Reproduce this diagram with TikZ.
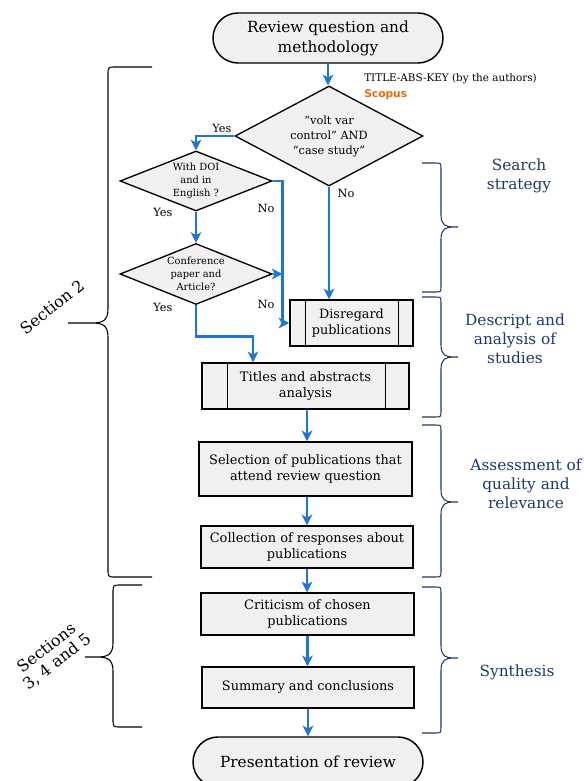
\documentclass[tikz,border=0pt]{standalone}
\usepackage{fontspec}
\setmainfont{DejaVu Serif}
\newfontfamily\scopusfont{DejaVu Sans}
\usetikzlibrary{arrows.meta,shapes.geometric}
\definecolor{flowblue}{RGB}{31,119,208}
\definecolor{navy}{RGB}{31,56,100}
\definecolor{boxgray}{RGB}{240,240,240}
\definecolor{scopusorange}{RGB}{228,108,10}
\def\pxu{0.75pt}
\newcommand\bracetoright[6]{% xl, xv, xt, yt, ym, yb  (opens left, tip to the right)
  \draw[navy, line width=0.8pt] (#1,#4) -- (#2-6,#4) .. controls (#2,#4) .. (#2,#4+6) -- (#2,#5-12)
    .. controls (#2,#5-2) and (#2+5,#5) .. (#2+12,#5) -- (#3,#5) -- (#2+12,#5)
    .. controls (#2+5,#5) and (#2,#5+2) .. (#2,#5+12) -- (#2,#6-6) .. controls (#2,#6) .. (#2-6,#6) -- (#1,#6);}
\newcommand\bracetoleft[6]{% xr, xv, xt, yt, ym, yb (opens right, tip to the left)
  \draw[black, line width=0.8pt] (#1,#4) -- (#2+8,#4) .. controls (#2,#4) .. (#2,#4+8) -- (#2,#5-14)
    .. controls (#2,#5-2) and (#2-6,#5) .. (#2-16,#5) -- (#3,#5) -- (#2-16,#5)
    .. controls (#2-6,#5) and (#2,#5+2) .. (#2,#5+14) -- (#2,#6-8) .. controls (#2,#6) .. (#2+8,#6) -- (#1,#6);}
\begin{document}
\begin{tikzpicture}[x=0.75pt,y=-0.75pt,
  term/.style={draw=black, line width=1.1pt, fill=boxgray, rounded corners=25*\pxu,
    minimum width=230*\pxu, minimum height=50*\pxu, inner sep=0, align=center,
    font=\fontsize{11.5}{15}\selectfont},
  dia/.style={draw=black, line width=1pt, fill=boxgray, shape=diamond, inner sep=0},
  diatext/.style={inner sep=0, align=center},
  proc/.style={draw=black, line width=1.1pt, fill=boxgray, inner sep=0, align=center},
  flow/.style={draw=flowblue, line width=2pt, -{Stealth[length=8pt,width=8pt,inset=2.2pt]}},
  yn/.style={inner sep=0, font=\fontsize{8.5}{10}\selectfont},
  phase/.style={inner sep=0, align=center, text=navy, font=\fontsize{11.5}{14.3}\selectfont},
  sect/.style={inner sep=0, align=center, rotate=38, font=\fontsize{12}{13}\selectfont}
]
\useasboundingbox (0,0) rectangle (584,781);
\clip (0,0) rectangle (584,781);

% terminators
\node[term] (start) at (328,38) {Review question and\\methodology};
\node[term] (finish) at (308,762) {Presentation of review};

% search annotation
\node[anchor=west, inner sep=0, font=\fontsize{7.8}{9}\selectfont] (tak) at (364,79) {TITLE-ABS-KEY (by the authors)};
\node[anchor=west, inner sep=0, text=scopusorange, font=\scopusfont\bfseries\fontsize{8}{10}\selectfont] (scopus) at (364,95) {Scopus};

% decisions
\node[dia, minimum width=188*\pxu, minimum height=100*\pxu] (d1) at (329,136) {};
\node[diatext, font=\fontsize{8.5}{11.25}\selectfont] (d1t) at (d1) {“volt var\\control” AND\\“case study”};
\node[dia, minimum width=152*\pxu, minimum height=60*\pxu] (d2) at (196,181) {};
\node[diatext, font=\fontsize{7.4}{9.75}\selectfont] (d2t) at (d2) {With DOI\\and in\\English ?};
\node[dia, minimum width=152*\pxu, minimum height=61*\pxu] (d3) at (196,274) {};
\node[diatext, font=\fontsize{7.4}{9.75}\selectfont] (d3t) at (d3) {Conference\\paper and\\Article?};

% process boxes
\node[proc, minimum width=123*\pxu, minimum height=46*\pxu, font=\fontsize{9.6}{11.75}\selectfont] (dis) at (351.5,323) {Disregard\\publications};
\draw[line width=1.1pt] ([xshift=16*\pxu]dis.north west) -- ([xshift=16*\pxu]dis.south west);
\draw[line width=1.1pt] ([xshift=-15*\pxu]dis.north east) -- ([xshift=-15*\pxu]dis.south east);
\node[proc, minimum width=207*\pxu, minimum height=46*\pxu, font=\fontsize{9.8}{11.75}\selectfont] (ti) at (305.5,386) {Titles and abstracts\\analysis};
\draw[line width=1.1pt] ([xshift=26*\pxu]ti.north west) -- ([xshift=26*\pxu]ti.south west);
\draw[line width=1.1pt] ([xshift=-24*\pxu]ti.north east) -- ([xshift=-24*\pxu]ti.south east);

\node[proc, minimum width=213*\pxu, minimum height=54*\pxu, font=\fontsize{9.7}{12.5}\selectfont] (sel) at (305.5,469) {Selection of publications that\\attend review question};
\node[proc, minimum width=212*\pxu, minimum height=42*\pxu, font=\fontsize{9.7}{12.5}\selectfont] (col) at (307,547) {Collection of responses about\\publications};
\node[proc, minimum width=213*\pxu, minimum height=42*\pxu, font=\fontsize{9.7}{12.5}\selectfont] (cri) at (307.5,614) {Criticism of chosen\\publications};
\node[proc, minimum width=212*\pxu, minimum height=41*\pxu, font=\fontsize{9.7}{12.5}\selectfont] (sum) at (308,687.5) {Summary and conclusions};

% connectors
\draw[flow] (start.south) -- (start.south |- d1.north);
\draw[flow] (d1.west) -| (d2.north);
\draw[flow] (d2.south) -- (d3.north);
\draw[flow] (d2.east) -- ++(10,0) |- (dis.west);
\draw[flow] (d3.east) -- ++(10,0);
\draw[flow] (d1.south) -- (d1.south |- dis.north);
\draw[flow] (d3.south) -- ++(0,31) -| ([xshift=-52.5*\pxu]ti.north);
\draw[flow] ([xshift=1.5*\pxu]ti.south) -- ([xshift=1.5*\pxu]ti.south |- sel.north);
\draw[flow] ([xshift=1.5*\pxu]sel.south) -- ([xshift=1.5*\pxu]sel.south |- col.north);
\draw[flow] (col.south) -- (col.south |- cri.north);
\draw[flow] (cri.south) -- (cri.south |- sum.north);
\draw[flow] (sum.south) -- (sum.south |- finish.north);

% yes / no labels
\node[yn] (y1) at (222,128) {Yes};
\node[yn] (y2) at (163,212) {Yes};
\node[yn] (y3) at (163,307) {Yes};
\node[yn] (n1) at (346,193) {No};
\node[yn] (n2) at (266,208) {No};
\node[yn] (n3) at (266,304) {No};

% right braces and phase labels
\bracetoright{422}{441}{458}{163}{227}{292}
\bracetoright{422}{441}{458}{297}{357}{417}
\bracetoright{422}{441}{458}{425}{502}{577}
\bracetoright{422}{441}{458}{587}{658}{733}
\node[phase] (ph1) at (519,176) {Search\\strategy};
\node[phase] (ph2) at (515,339) {Descript and\\analysis of\\studies};
\node[phase] (ph3) at (526,484) {Assessment of\\quality and\\relevance};
\node[phase] (ph4) at (517,672) {Synthesis};

% left braces and section labels
\bracetoleft{152}{108}{68}{67}{323}{577}
\bracetoleft{142}{113}{85}{585}{657}{727}
\node[sect] (s2) at (52,307) {Section 2};
\node[sect] (s345) at (52,655) {Sections\\3, 4 and 5};
\end{tikzpicture}
\end{document}
